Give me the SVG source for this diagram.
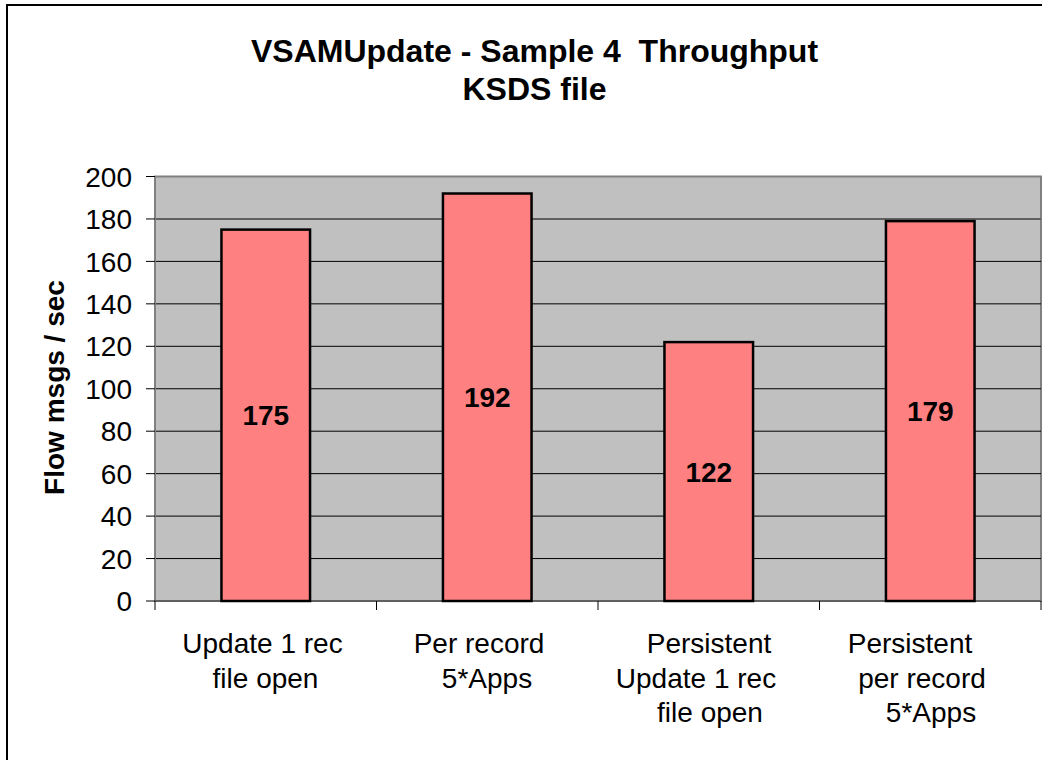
<svg xmlns="http://www.w3.org/2000/svg" width="1052" height="760" viewBox="0 0 1052 760">
<style>
.t{font-family:"Liberation Sans",Arial,sans-serif;fill:#000}
.title{font-size:32px;font-weight:bold;text-anchor:middle}
.ytick{font-size:28px;text-anchor:end}
.cat{font-size:28px;text-anchor:middle}
.val{font-size:28px;font-weight:bold;text-anchor:middle}
.grid{stroke:#000;stroke-width:1}
.bar{fill:#FF8080;stroke:#000;stroke-width:2.5}
.tick{stroke:#000;stroke-width:1}
</style>
<rect x="0" y="0" width="1052" height="760" fill="#fff"/>
<polyline points="7,760 7,5 1042,5" fill="none" stroke="#000" stroke-width="2"/>
<g id="title">
<text class="t title" x="534.5" y="62">VSAMUpdate - Sample 4&#160; Throughput</text>
<text class="t title" x="534.5" y="100">KSDS file</text>
</g>
<g id="plot">
<rect x="155" y="176.5" width="886" height="424.5" fill="#C0C0C0" stroke="#808080" stroke-width="2"/>
<line class="grid" x1="155" y1="558.55" x2="1041" y2="558.55"/>
<line class="grid" x1="155" y1="516.1" x2="1041" y2="516.1"/>
<line class="grid" x1="155" y1="473.65" x2="1041" y2="473.65"/>
<line class="grid" x1="155" y1="431.2" x2="1041" y2="431.2"/>
<line class="grid" x1="155" y1="388.75" x2="1041" y2="388.75"/>
<line class="grid" x1="155" y1="346.3" x2="1041" y2="346.3"/>
<line class="grid" x1="155" y1="303.85" x2="1041" y2="303.85"/>
<line class="grid" x1="155" y1="261.4" x2="1041" y2="261.4"/>
<line x1="155" y1="218.95" x2="1041" y2="218.95" stroke="#606060" stroke-width="2"/>
</g>
<g id="axes">
<line x1="155" y1="176.5" x2="155" y2="601" stroke="#808080" stroke-width="2"/>
<line x1="155" y1="601" x2="1041" y2="601" stroke="#606060" stroke-width="2"/>
<g class="tick">
<line x1="146" y1="601" x2="155" y2="601"/>
<line x1="146" y1="558.55" x2="155" y2="558.55"/>
<line x1="146" y1="516.1" x2="155" y2="516.1"/>
<line x1="146" y1="473.65" x2="155" y2="473.65"/>
<line x1="146" y1="431.2" x2="155" y2="431.2"/>
<line x1="146" y1="388.75" x2="155" y2="388.75"/>
<line x1="146" y1="346.3" x2="155" y2="346.3"/>
<line x1="146" y1="303.85" x2="155" y2="303.85"/>
<line x1="146" y1="261.4" x2="155" y2="261.4"/>
<line x1="146" y1="218.95" x2="155" y2="218.95"/>
<line x1="146" y1="176.5" x2="155" y2="176.5"/>
<line x1="155" y1="601" x2="155" y2="610"/>
<line x1="376.5" y1="601" x2="376.5" y2="610"/>
<line x1="598" y1="601" x2="598" y2="610"/>
<line x1="819.5" y1="601" x2="819.5" y2="610"/>
<line x1="1041" y1="601" x2="1041" y2="610"/>
</g>
<text class="t ytick" x="132" y="611">0</text>
<text class="t ytick" x="132" y="568.5">20</text>
<text class="t ytick" x="132" y="526">40</text>
<text class="t ytick" x="132" y="483.5">60</text>
<text class="t ytick" x="132" y="441">80</text>
<text class="t ytick" x="132" y="398.5">100</text>
<text class="t ytick" x="132" y="356">120</text>
<text class="t ytick" x="132" y="314">140</text>
<text class="t ytick" x="132" y="271.5">160</text>
<text class="t ytick" x="132" y="229">180</text>
<text class="t ytick" x="132" y="186.5">200</text>
<text class="t" x="64" y="387.5" transform="rotate(-90 64 387.5)" style="font-size:28px;font-weight:bold;text-anchor:middle">Flow msgs / sec</text>
</g>
<g id="bar1">
<rect class="bar" x="221.45" y="229.6" width="88.6" height="371.4"/>
<text class="t val" x="265.75" y="425.3">175</text>
</g>
<g id="bar2">
<rect class="bar" x="442.95" y="193.5" width="88.6" height="407.5"/>
<text class="t val" x="487.25" y="407.3">192</text>
</g>
<g id="bar3">
<rect class="bar" x="664.45" y="342.1" width="88.6" height="258.9"/>
<text class="t val" x="708.75" y="481.5">122</text>
</g>
<g id="bar4">
<rect class="bar" x="885.95" y="221.1" width="88.6" height="379.9"/>
<text class="t val" x="930.25" y="421">179</text>
</g>
<g id="cat1">
<text class="t cat" x="262.5" y="653">Update 1 rec</text>
<text class="t cat" x="265.5" y="687.5">file open</text>
</g>
<g id="cat2">
<text class="t cat" x="479" y="653">Per record</text>
<text class="t cat" x="487" y="687.5">5*Apps</text>
</g>
<g id="cat3">
<text class="t cat" x="709" y="653">Persistent</text>
<text class="t cat" x="696" y="687.5">Update 1 rec</text>
<text class="t cat" x="710" y="722">file open</text>
</g>
<g id="cat4">
<text class="t cat" x="910" y="653">Persistent</text>
<text class="t cat" x="922" y="687.5">per record</text>
<text class="t cat" x="931" y="722">5*Apps</text>
</g>
</svg>
